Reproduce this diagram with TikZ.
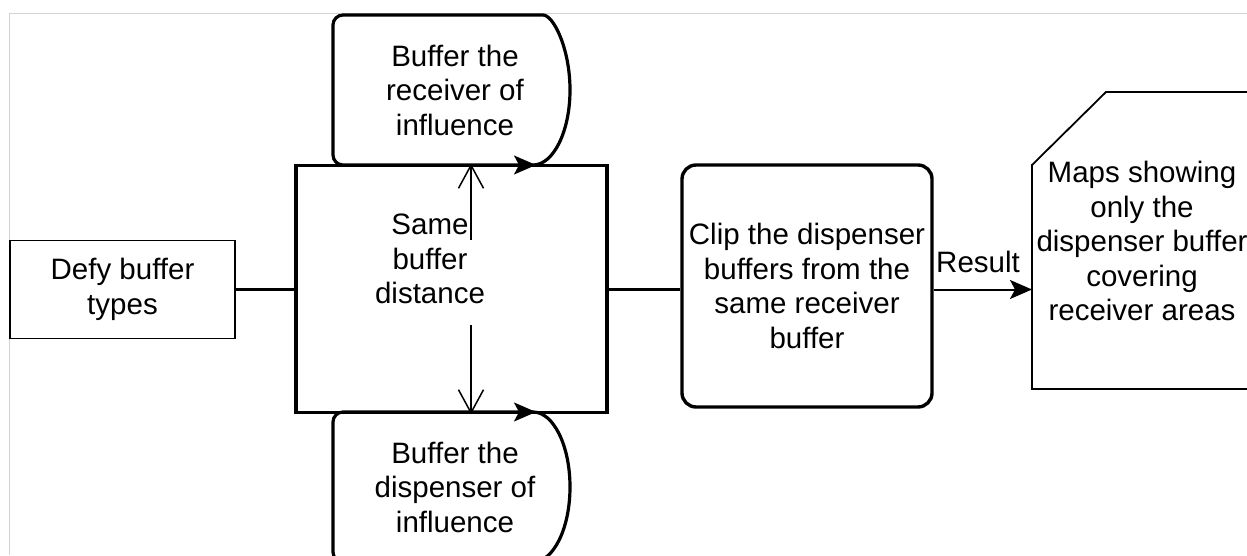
\documentclass[tikz,border=0pt]{standalone}
\usepackage{fontspec}
\setmainfont{Liberation Sans}
\usetikzlibrary{arrows.meta}
\begin{document}
\begin{tikzpicture}[x=1pt,y=1pt,
  every node/.style={font=\fontsize{29.5}{34.5}\selectfont, align=center, inner sep=0pt},
  thickln/.style={line width=3.2pt},
  thinbox/.style={draw, line width=1.6pt},
  tip/.style={-{Stealth[length=22pt,width=19pt,inset=5pt]}},
  barb/.style={-{Straight Barb[length=23pt,width=25pt,line width=1.5pt]}}
]
\useasboundingbox (0,0) rectangle (1247,555);
\fill[white] (0,0) rectangle (1247,555);
% frame
\draw[gray!35, line width=0.9pt] (1247,542) -- (9,542) -- (9,0);

% nodes
\node[thinbox, minimum width=225pt, minimum height=98pt] (defy) at (122.5,265.5) {Defy buffer\\types};
\node[draw, line width=3.6pt, minimum width=311pt, minimum height=247pt] (central) at (451.5,266) {};
\node[draw, line width=3.4pt, rounded corners=14pt, minimum width=250pt, minimum height=242pt] (clip) at (807,269) {Clip the dispenser\\buffers from the\\same receiver\\buffer};

% upper delay
\draw[thickln, rounded corners=10pt] (533,390) -- (333,390) -- (333,540) -- (533,540)
  arc[start angle=90, end angle=-90, x radius=37, y radius=75];
\node (recv) at (455,465) {Buffer the\\receiver of\\influence};
\coordinate (ta) at (505,390);
\draw[line width=2pt, tip] (ta) -- ++(31,0);

% lower delay
\draw[thickln, rounded corners=10pt] (533,143) -- (333,143) -- (333,-7) -- (533,-7);
\draw[thickln] (533,143) arc[start angle=90, end angle=-90, x radius=37, y radius=75];
\node (disp) at (455,68) {Buffer the\\dispenser of\\influence};
\coordinate (tb) at (505,143);
\draw[line width=2pt, tip] (tb) -- ++(31,0);

% card
\draw[line width=1.8pt] (1032,166) -- (1032,390) -- (1106,463) -- (1262,463) -- (1262,166) -- cycle;
\node (card) at (1142,314) {Maps showing\\only the\\dispenser buffer\\covering\\receiver areas};
\coordinate (cardw) at (1032,265.5);

% same buffer distance
\node (same) at (430,296) {Same\\buffer\\distance};
\coordinate (g1) at (471,315);
\coordinate (g2) at (471,230);
\draw[line width=1.5pt, barb] (g1) -- (g1 |- central.north);
\draw[line width=1.5pt, barb] (g2) -- (g2 |- central.south);

% connectors
\draw[thickln] (defy.east) -- (defy.east -| central.west);
\draw[thickln] (defy.east -| central.east) -- (defy.east -| clip.west);
\draw[line width=2pt, tip] (defy.east -| clip.east) -- (cardw);
\node (res) at (978,293) {Result};
\end{tikzpicture}
\end{document}
